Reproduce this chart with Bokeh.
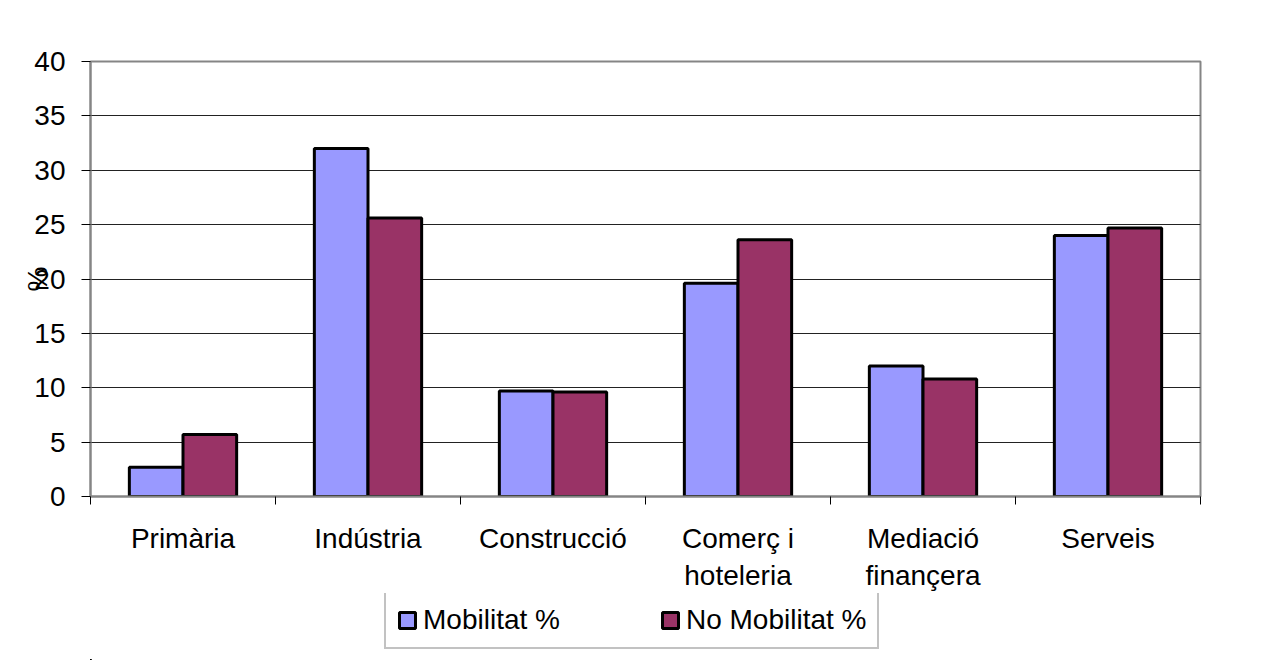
import numpy as np
from bokeh.plotting import figure
from bokeh.layouts import column
from bokeh.models import ColumnDataSource, FixedTicker, Range1d, Legend, LegendItem
from bokeh.transform import dodge
from bokeh.embed import file_html
from bokeh.resources import INLINE

categories = ["Primària", "Indústria", "Construcció", "Comerç i\nhoteleria",
              "Mediació\nfinançera", "Serveis"]
mobilitat = [2.7, 32.0, 9.7, 19.6, 12.0, 24.0]
no_mobilitat = [5.7, 25.6, 9.6, 23.6, 10.8, 24.7]
series_names = ["Mobilitat %", "No Mobilitat %"]
series_colors = ["#9999FF", "#993366"]
y_ticks = [0, 5, 10, 15, 20, 25, 30, 35, 40]
y_label = "%"

FONT = "Liberation Sans"
FS = "28px"

centers = [i + 0.5 for i in range(len(categories))]
src = ColumnDataSource(dict(x=centers, m=mobilitat, n=no_mobilitat))

p = figure(width=1255, height=593,
           x_range=Range1d(0, len(categories)), y_range=Range1d(y_ticks[0], y_ticks[-1]),
           output_backend="svg", toolbar_location=None,
           min_border_left=90, min_border_right=55, min_border_top=61, min_border_bottom=97)
p.background_fill_color = "white"
p.border_fill_color = "white"
p.outline_line_color = "#858585"
p.outline_line_width = 2

bw = 0.29
r1 = p.vbar(x=dodge("x", -bw / 2), top="m", width=bw, source=src,
            fill_color=series_colors[0], line_color="black", line_width=3)
r2 = p.vbar(x=dodge("x", bw / 2), top="n", width=bw, source=src,
            fill_color=series_colors[1], line_color="black", line_width=3)

# grid
p.xgrid.visible = False
p.ygrid.ticker = FixedTicker(ticks=y_ticks)
p.ygrid.grid_line_color = "#222222"
p.ygrid.grid_line_width = 1

# y axis
yax = p.yaxis[0]
yax.ticker = FixedTicker(ticks=y_ticks)
yax.axis_line_color = "#858585"
yax.axis_line_width = 2
yax.major_tick_line_color = "black"
yax.major_tick_in = 0
yax.major_tick_out = 9
yax.minor_tick_line_color = None
yax.major_label_text_font = FONT
yax.major_label_text_font_size = FS
yax.major_label_text_color = "black"
yax.major_label_standoff = 16
yax.axis_label = y_label
yax.axis_label_text_font = FONT
yax.axis_label_text_font_size = FS
yax.axis_label_text_font_style = "normal"
yax.axis_label_text_color = "black"
yax.axis_label_standoff = -22

# x axis
xax = p.xaxis[0]
xax.ticker = FixedTicker(ticks=centers, minor_ticks=list(range(len(categories) + 1)))
xax.major_label_overrides = {c: lab for c, lab in zip(centers, categories)}
xax.axis_line_color = "#858585"
xax.axis_line_width = 2
xax.major_tick_line_color = None
xax.major_tick_in = 0
xax.major_tick_out = 0
xax.minor_tick_line_color = "black"
xax.minor_tick_in = 0
xax.minor_tick_out = 8
xax.major_label_text_font = FONT
xax.major_label_text_font_size = FS
xax.major_label_text_color = "black"
xax.major_label_standoff = 18

# legend in its own strip below the chart (its bars lie far outside its visible ranges)
pl = figure(width=1255, height=67, x_range=Range1d(1000, 1001), y_range=Range1d(1000, 1001),
            output_backend="svg", toolbar_location=None, min_border=0,
            x_axis_location=None, y_axis_location=None)
pl.grid.visible = False
pl.outline_line_color = None
pl.background_fill_color = "white"
pl.border_fill_color = "white"
l1 = pl.vbar(x="x", top="m", width=bw, source=src,
             fill_color=series_colors[0], line_color="black", line_width=3)
l2 = pl.vbar(x="x", top="n", width=bw, source=src,
             fill_color=series_colors[1], line_color="black", line_width=3)

legend = Legend(items=[LegendItem(label=series_names[0], renderers=[l1]),
                       LegendItem(label=series_names[1], renderers=[l2])],
                orientation="horizontal", location=(294, 11), margin=0,
                label_text_font=FONT, label_text_font_size=FS, label_text_color="black",
                glyph_width=20, glyph_height=20, label_standoff=6, spacing=100,
                padding=11, border_line_color="#858585", border_line_width=2,
                background_fill_color="white", background_fill_alpha=1.0)
pl.add_layout(legend)

layout = column(p, pl, spacing=0)
open("out.html", "w").write(file_html(layout, INLINE))
